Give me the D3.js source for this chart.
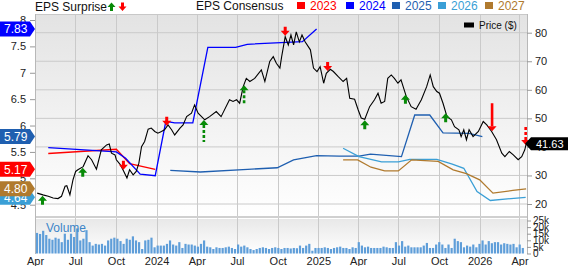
<!DOCTYPE html>
<html>
<head>
<meta charset="utf-8">
<script src="https://cdn.jsdelivr.net/npm/d3@7"></script>
<style>
body { margin: 0; background: #fff; }
svg { display: block; font-family: "Liberation Sans", Arial, sans-serif; }
</style>
</head>
<body>
<svg id="chart" width="568" height="266"></svg>
<script>
// ---- data ----
const priceDates = ["2023-04-06","2023-04-19","2023-05-01","2023-05-12","2023-05-23","2023-05-31","2023-06-08","2023-06-12","2023-06-19","2023-06-26","2023-07-02","2023-07-07","2023-07-19","2023-07-30","2023-08-07","2023-08-18","2023-08-29","2023-09-10","2023-09-16","2023-09-21","2023-09-29","2023-10-02","2023-10-10","2023-10-17","2023-10-26","2023-11-01","2023-11-09","2023-11-16","2023-11-22","2023-11-28","2023-12-05","2023-12-13","2023-12-20","2023-12-28","2024-01-04","2024-01-12","2024-01-19","2024-01-27","2024-02-04","2024-02-11","2024-02-23","2024-03-01","2024-03-09","2024-03-20","2024-03-27","2024-04-04","2024-04-19","2024-04-30","2024-05-15","2024-05-26","2024-06-14","2024-06-22","2024-06-30","2024-07-07","2024-07-15","2024-07-22","2024-07-30","2024-08-10","2024-08-25","2024-09-02","2024-09-13","2024-09-21","2024-09-28","2024-10-06","2024-10-10","2024-10-18","2024-10-25","2024-10-31","2024-11-06","2024-11-12","2024-11-19","2024-11-25","2024-12-02","2024-12-14","2024-12-21","2024-12-29","2025-01-05","2025-01-13","2025-01-19","2025-01-28","2025-02-04","2025-02-15","2025-02-26","2025-03-06","2025-03-13","2025-03-24","2025-04-01","2025-04-08","2025-04-16","2025-04-27","2025-05-08","2025-05-16","2025-05-23","2025-05-31","2025-06-07","2025-06-15","2025-06-22","2025-06-30","2025-07-07","2025-07-19","2025-07-30","2025-08-10","2025-08-22","2025-09-03","2025-09-11","2025-09-18","2025-09-26","2025-10-02","2025-10-10","2025-10-19","2025-10-29","2025-11-05","2025-11-15","2025-11-20","2025-11-26","2025-12-02","2025-12-08","2025-12-17","2025-12-29","2026-01-09","2026-01-17","2026-01-28","2026-02-08","2026-02-20","2026-02-27","2026-03-09","2026-03-18","2026-03-29","2026-04-06","2026-04-13","2026-04-17"];
const priceValues = [23.8,23.2,22.7,22.1,21.9,22.7,26.2,26.4,23.2,28.5,31.4,32.0,33.1,36.9,35.5,32.2,39.0,40.7,41.0,37.8,37.2,35.5,34.0,32.0,29.1,32.0,30.2,31.4,34.3,40.1,41.9,46.2,46.6,45.4,44.8,45.4,46.0,47.7,46.0,44.2,46.6,47.7,50.6,51.8,54.7,51.8,49.5,50.6,52.4,50.6,56.5,55.9,56.5,55.3,61.1,64.0,62.9,64.0,67.0,62.9,69.9,71.6,69.3,67.6,71.6,78.6,75.7,79.2,75.7,80.3,76.8,79.2,76.8,74.0,67.6,66.4,68.1,62.3,65.8,67.2,66.4,64.6,62.9,64.0,57.0,56.7,53.0,50.1,49.7,54.1,56.5,58.8,55.3,55.9,64.0,65.2,64.0,62.3,63.5,57.6,54.1,53.2,56.5,61.1,65.2,61.1,59.4,58.8,55.3,50.6,49.5,47.1,46.0,43.6,46.0,42.5,46.0,43.6,45.4,48.9,47.7,45.4,42.5,37.8,36.6,38.4,37.2,35.5,36.6,39.0,41.63];

const eps2023Dates = ["2023-05-01","2023-10-02","2023-11-01","2023-12-29"];
const eps2023Values = [5.47,5.55,5.28,5.17];
const eps2024Dates = ["2023-05-01","2023-10-02","2023-10-23","2023-11-25","2023-12-29","2024-01-22","2024-02-11","2024-03-23","2024-04-26","2024-06-28","2024-07-24","2024-11-26","2024-12-28"];
const eps2024Values = [5.58,5.50,5.38,5.08,5.05,6.08,6.05,6.05,7.48,7.48,7.54,7.59,7.83];
const eps2025Dates = ["2024-02-01","2024-04-09","2024-07-25","2024-09-30","2024-11-06","2024-12-28","2025-02-17","2025-04-03","2025-04-29","2025-07-08","2025-08-07","2025-09-10","2025-10-10","2025-12-08","2026-01-07"];
const eps2025Values = [5.15,5.12,5.17,5.20,5.35,5.43,5.42,5.42,5.46,5.41,6.20,6.20,5.86,5.85,5.79];
const eps2026Dates = ["2025-02-26","2025-04-03","2025-05-24","2025-07-01","2025-07-27","2025-09-26","2025-10-31","2025-11-26","2025-12-26","2026-01-25","2026-04-15"];
const eps2026Values = [5.57,5.41,5.31,5.31,5.36,5.36,5.27,5.19,4.75,4.58,4.64];
const eps2027Dates = ["2025-02-26","2025-03-31","2025-04-30","2025-05-31","2025-07-01","2025-07-31","2025-09-29","2025-11-02","2025-12-02","2026-01-01","2026-01-31","2026-03-17","2026-04-16"];
const eps2027Values = [5.35,5.35,5.21,5.14,5.14,5.35,5.32,5.16,5.09,4.97,4.72,4.77,4.80];

const surpriseDates = ["2023-04-18","2023-07-18","2023-10-18","2024-01-24","2024-04-17","2024-07-17","2024-10-18","2025-01-22","2025-04-16","2025-07-17","2025-10-16","2026-01-29","2026-04-15"];
const surprisePct = [4, 5, -4, -5, 14, 12, -4, -4, 5, 4, 5, -18, -12];
const surpriseDashed = [false, false, false, false, true, true, false, false, false, false, false, false, true];

const volumeStart = "2023-04-03"; // weekly bars, thousands of shares
const volumeValues = [15.6,14.8,17.2,14,11.2, 10.4,12,11.2,8.6,15, 10.4,15,12.5,19,9.9,11.2,17.7,
  8.6,6,7.3,6.8,7.3,6,9.9, 11.2,12,11.2, 9.4,7.3,11.2,10.4,13,9.9,8.6, 3.4,9.9,10.4,12,
  4.7,6,6,6,7.3,9.9,6.8,6,8.6,4.2,7.3, 6.8,6.8,6,5.2,7.3,9.9, 5.2,4.7,3.4,4.7,4.2,4.2,4.7,5.2,
  4.2,3.4,6.8,5.2,6,4.7,3.4,2.6,3.4,4.2,4.7, 4.2,3.4,4.2,4.7,4.2,3.4,4.2,4.2,3.8,4.2,4,
  6,4.2,6,7.3,2.1,4.2, 4.2,4.2,4.7,4.2,3.4,4.2,4.7,5.2,4.2,4.2,3.4,4.7,4.2,
  8.6,6,4.7,5.2,4.2,4.2, 4.2,4.2,5.2,4.7,4.2,4.2,8.6, 6,9.4,5.2,6,4.7,4.7,
  4.7,4.7,6,8,4.2,4.2,6.8, 8.6,6.8,4.2,6.8,4.2,11.2,9.4,8.6,4.7,
  6,5.2,6.8,4.7,7.3,9.9,6.8,9.4, 7.8,8.6,8.6,6.8,7.8,7.3,6.8,7.3,4.7,6.8,4.2];

const epsYears = ["2023", "2024", "2025", "2026", "2027"];
const epsColors = ["#ff0000", "#0000ff", "#1f5fb0", "#3a9fd6", "#b07a2e"];
const epsTicks = [4.5, 5, 5.5, 6, 6.5, 7, 7.5, 8];
const priceTicks = [20, 30, 40, 50, 60, 70, 80];
const volumeTicks = [0, 5, 10, 15, 20, 25];
const xTickDates = ["2023-04-01","2023-07-01","2023-10-01","2024-01-01","2024-04-01","2024-07-01","2024-10-01","2025-01-01","2025-04-01","2025-07-01","2025-10-01","2026-01-01","2026-04-01"];
const xTickLabels = ["Apr","Jul","Oct","2024","Apr","Jul","Oct","2025","Apr","Jul","Oct","2026","Apr"];

// ---- setup ----
const parse = d3.timeParse("%Y-%m-%d");
const svg = d3.select("#chart");
const plot = {left: 35, right: 527, top: 14, bottom: 216};
const vol = {top: 219, bottom: 254};

const x = d3.scaleTime()
    .domain([parse("2023-04-01"), parse("2026-04-18")])
    .range([plot.left, plot.right]);
const yEps = d3.scaleLinear().domain([4.5, 8]).range([204.7, 20]);
const yPrice = d3.scaleLinear().domain([20, 80]).range([204, 32.7]);
const yVol = d3.scaleLinear().domain([0, 25]).range([253.5, 220.5]);

const price = priceDates.map((d, i) => ({date: parse(d), value: priceValues[i]}));
const epsSeries = [
    {dates: eps2023Dates, values: eps2023Values},
    {dates: eps2024Dates, values: eps2024Values},
    {dates: eps2025Dates, values: eps2025Values},
    {dates: eps2026Dates, values: eps2026Values},
    {dates: eps2027Dates, values: eps2027Values}
].map((s, k) => ({
    year: epsYears[k],
    color: epsColors[k],
    points: s.dates.map((d, i) => ({date: parse(d), value: s.values[i]}))
}));

// backgrounds
const defs = svg.append("defs");
const grad = defs.append("linearGradient").attr("id", "bg").attr("x1", 0).attr("y1", 0).attr("x2", 0).attr("y2", 1);
grad.append("stop").attr("offset", "0%").attr("stop-color", "#e3e3e3");
grad.append("stop").attr("offset", "100%").attr("stop-color", "#ffffff");
const vgrad = defs.append("linearGradient").attr("id", "vbg").attr("x1", 0).attr("y1", 0).attr("x2", 0).attr("y2", 1);
vgrad.append("stop").attr("offset", "0%").attr("stop-color", "#e8e8e8");
vgrad.append("stop").attr("offset", "100%").attr("stop-color", "#ffffff");

svg.append("rect").attr("x", plot.left).attr("y", plot.top)
    .attr("width", plot.right - plot.left).attr("height", plot.bottom - plot.top)
    .attr("fill", "url(#bg)");
svg.append("rect").attr("x", plot.left).attr("y", vol.top)
    .attr("width", plot.right - plot.left).attr("height", vol.bottom - vol.top)
    .attr("fill", "url(#vbg)");

// grid
svg.append("g").selectAll("line").data(priceTicks).enter().append("line")
    .attr("x1", plot.left).attr("x2", plot.right)
    .attr("y1", d => yPrice(d)).attr("y2", d => yPrice(d))
    .attr("stroke", "#cacaca").attr("stroke-width", 1);
svg.append("g").selectAll("line").data(xTickDates).enter().append("line")
    .attr("x1", d => Math.round(x(parse(d))) + 0.5).attr("x2", d => Math.round(x(parse(d))) + 0.5)
    .attr("y1", plot.top).attr("y2", vol.bottom)
    .attr("stroke", "#cacaca").attr("stroke-width", 1);

// frame
svg.append("line").attr("x1", plot.left).attr("x2", plot.right).attr("y1", plot.top + 0.5).attr("y2", plot.top + 0.5).attr("stroke", "#c8c8c8");
svg.append("line").attr("x1", plot.left).attr("x2", plot.right).attr("y1", plot.bottom + 1).attr("y2", plot.bottom + 1).attr("stroke", "#d0d0d0").attr("stroke-width", 2);
svg.append("line").attr("x1", plot.left + 0.5).attr("x2", plot.left + 0.5).attr("y1", plot.top).attr("y2", vol.bottom).attr("stroke", "#b8b8b8");
svg.append("line").attr("x1", plot.right + 0.5).attr("x2", plot.right + 0.5).attr("y1", plot.top).attr("y2", vol.bottom).attr("stroke", "#b8b8b8");

// volume bars
const vStart = parse(volumeStart);
svg.append("g").selectAll("rect").data(volumeValues).enter().append("rect")
    .attr("x", (d, i) => x(d3.timeWeek.offset(vStart, i)))
    .attr("y", d => yVol(d))
    .attr("width", 2.2)
    .attr("height", d => yVol(0) - yVol(d))
    .attr("fill", "#5f9ed9");
svg.append("text").attr("x", 46).attr("y", 232).attr("font-size", 12)
    .attr("fill", "#3d85c8").text("Volume");

// EPS consensus lines
const epsLine = d3.line().x(d => x(d.date)).y(d => yEps(d.value));
svg.append("g").selectAll("path").data(epsSeries).enter().append("path")
    .attr("d", d => epsLine(d.points))
    .attr("fill", "none").attr("stroke", d => d.color).attr("stroke-width", 1.3);

// price line
const priceLine = d3.line().x(d => x(d.date)).y(d => yPrice(d.value));
svg.append("path").attr("d", priceLine(price))
    .attr("fill", "none").attr("stroke", "#000").attr("stroke-width", 1.1);

// surprise arrows
const bis = d3.bisector(d => d.date).left;
function priceAt(date) {
    const i = Math.max(1, Math.min(price.length - 1, bis(price, date)));
    const a = price[i - 1], b = price[i];
    const t = (date - a.date) / (b.date - a.date);
    return a.value + (b.value - a.value) * Math.max(0, Math.min(1, t));
}
const arrowLen = d3.scaleLinear().domain([5, 18]).range([9, 28]).clamp(true);
const arrows = svg.append("g");
surpriseDates.forEach((d, i) => {
    const date = parse(d);
    const px = x(date);
    const up = surprisePct[i] > 0;
    const color = up ? "#078a07" : "#ff0000";
    const dir = up ? 1 : -1;
    const tip = yPrice(priceAt(date)) + dir * 1;
    const L = arrowLen(Math.abs(surprisePct[i]));
    const head = 5;
    if (surpriseDashed[i] || L > 12) {
        arrows.append("line")
            .attr("x1", px).attr("x2", px)
            .attr("y1", tip + dir * head).attr("y2", tip + dir * L)
            .attr("stroke", color).attr("stroke-width", 2.6)
            .attr("stroke-dasharray", surpriseDashed[i] ? "3,2" : null);
        arrows.append("path")
            .attr("d", `M${px},${tip}L${px + 4.5},${tip + dir * head}L${px - 4.5},${tip + dir * head}Z`)
            .attr("fill", color);
    } else {
        arrows.append("path")
            .attr("d", `M${px},${tip}L${px + 4.5},${tip + dir * head}L${px + 1.5},${tip + dir * head}` +
                `L${px + 1.5},${tip + dir * L}L${px - 1.5},${tip + dir * L}L${px - 1.5},${tip + dir * head}` +
                `L${px - 4.5},${tip + dir * head}Z`)
            .attr("fill", color);
    }
});

// left axis (EPS)
const leftAxis = svg.append("g")
    .attr("transform", `translate(${plot.left},0)`)
    .call(d3.axisLeft(yEps).tickValues(epsTicks).tickSize(5).tickPadding(4)
        .tickFormat(d => d3.format("")(d)));
leftAxis.select(".domain").remove();
leftAxis.selectAll("line").attr("stroke", "#999");
leftAxis.selectAll("text").attr("font-size", 11).attr("fill", "#222")
    .attr("font-family", "Liberation Sans, Arial, sans-serif");

// right axis (price)
const rightAxis = svg.append("g")
    .attr("transform", `translate(${plot.right},0)`)
    .call(d3.axisRight(yPrice).tickValues(priceTicks).tickSize(5).tickPadding(3));
rightAxis.select(".domain").remove();
rightAxis.selectAll("line").attr("stroke", "#999");
rightAxis.selectAll("text").attr("font-size", 11).attr("fill", "#222")
    .attr("font-family", "Liberation Sans, Arial, sans-serif");

// right axis (volume)
const volAxis = svg.append("g")
    .attr("transform", `translate(${plot.right},0)`)
    .call(d3.axisRight(yVol).tickValues(volumeTicks).tickSize(4).tickPadding(2)
        .tickFormat(d => d === 0 ? "0" : d + "k"));
volAxis.select(".domain").remove();
volAxis.selectAll("line").attr("stroke", "#999");
volAxis.selectAll("text").attr("font-size", 10).attr("fill", "#222")
    .attr("font-family", "Liberation Sans, Arial, sans-serif");

// bottom axis
const bottomAxis = svg.append("g")
    .attr("transform", `translate(0,${vol.bottom})`)
    .call(d3.axisBottom(x).tickValues(xTickDates.map(parse)).tickSize(0).tickPadding(3)
        .tickFormat((d, i) => xTickLabels[i]));
bottomAxis.select(".domain").remove();
bottomAxis.selectAll("text").attr("font-size", 11).attr("fill", "#222")
    .attr("font-family", "Liberation Sans, Arial, sans-serif");

// badges on the left (last EPS values); later ones sit on top, as in the source
const badgeOrder = [3, 4, 0, 2, 1];
badgeOrder.forEach(k => {
    const s = epsSeries[k];
    const v = s.points[s.points.length - 1].value;
    const cy = yEps(v);
    const g = svg.append("g");
    g.append("path")
        .attr("d", `M0,${cy - 7.5}L30,${cy - 7.5}L35,${cy}L30,${cy + 7.5}L0,${cy + 7.5}Z`)
        .attr("fill", s.color);
    g.append("text").attr("x", 4).attr("y", cy + 4.5).attr("font-size", 12)
        .attr("fill", "#fff").text(d3.format(".2f")(v));
});

// price badge on the right
const lastPrice = price[price.length - 1].value;
const py = yPrice(lastPrice) + 1.5;
svg.append("path")
    .attr("d", `M${plot.right - 2},${py}L${plot.right + 4},${py - 6.5}L568,${py - 6.5}L568,${py + 6.5}L${plot.right + 4},${py + 6.5}Z`)
    .attr("fill", "#000");
svg.append("text").attr("x", 536).attr("y", py + 4).attr("font-size", 11)
    .attr("fill", "#fff").text(d3.format(".2f")(lastPrice));

// header: EPS Surprise
svg.append("text").attr("x", 35).attr("y", 11).attr("font-size", 12).attr("fill", "#111").text("EPS Surprise");
svg.append("path").attr("d", "M111.5,2.5L115.5,7L113,7L113,11L110,11L110,7L107.5,7Z").attr("fill", "#078a07");
svg.append("path").attr("d", "M122.5,11L126.5,6.5L124,6.5L124,2.5L121,2.5L121,6.5L118.5,6.5Z").attr("fill", "#ff0000");

// header: EPS Consensus legend
svg.append("text").attr("x", 196).attr("y", 10).attr("font-size", 12).attr("fill", "#111").text("EPS Consensus");
const legendX = [297, 346, 392, 438, 485];
const legend = svg.append("g").selectAll("g").data(epsSeries).enter().append("g")
    .attr("transform", (d, i) => `translate(${legendX[i]},0)`);
legend.append("rect").attr("x", 0).attr("y", 2).attr("width", 8).attr("height", 7)
    .attr("fill", d => d.color);
legend.append("text").attr("x", 13).attr("y", 10).attr("font-size", 12)
    .attr("fill", d => d.color).text(d => d.year);

// price legend
svg.append("rect").attr("x", 464).attr("y", 22.5).attr("width", 10).attr("height", 5).attr("fill", "#000");
svg.append("text").attr("x", 479).attr("y", 29).attr("font-size", 10).attr("fill", "#111").text("Price ($)");
</script>
</body>
</html>
